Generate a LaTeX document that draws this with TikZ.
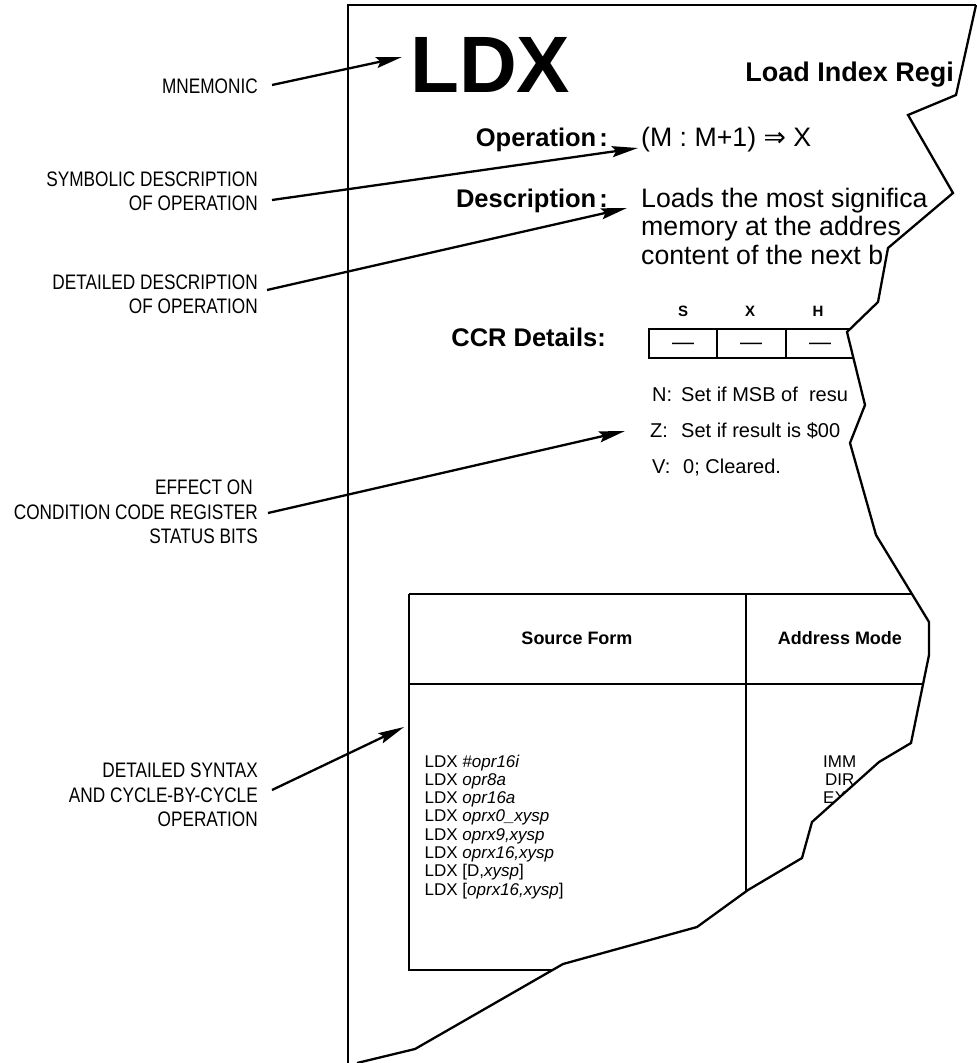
\documentclass[tikz,border=0pt]{standalone}
\usepackage{fontspec}
\setmainfont{Liberation Sans}
\newfontfamily\narrowfont[FakeStretch=0.82]{Liberation Sans}
\newfontfamily\symfont{DejaVu Sans}
\usetikzlibrary{arrows.meta}
\begin{document}
\begin{tikzpicture}[x=1pt,y=-1pt,
  lbl/.style={font=\narrowfont\fontsize{21}{24.5}\selectfont, align=right, inner sep=0, anchor=east},
  callout/.style={line width=2.3pt, -{Stealth[length=26pt,width=11pt,inset=4pt]}},
  pageline/.style={line width=2.3pt, line join=miter},
  hdr/.style={font=\bfseries\fontsize{25.5}{28}\selectfont, inner sep=0, anchor=base east},
  body/.style={font=\fontsize{26.7}{28}\selectfont, inner sep=0, anchor=base west},
  bitlbl/.style={font=\bfseries\fontsize{15}{18}\selectfont, inner sep=0, anchor=base},
  bitbox/.style={line width=2.5pt},
  dashtxt/.style={font=\fontsize{22}{24}\selectfont, inner sep=0, anchor=base},
  flag/.style={font=\fontsize{20}{24}\selectfont, inner sep=0, anchor=base west},
  tbl/.style={line width=1.3pt},
  thdr/.style={font=\bfseries\fontsize{18}{20}\selectfont, inner sep=0, anchor=base},
  tline/.style={font=\fontsize{17}{18.3}\selectfont, inner sep=0, anchor=base west}]
\useasboundingbox (0,0) rectangle (977,1063);

% ---------- page content, clipped by the torn page ----------
\begin{scope}
\clip (348,5) -- (976,5) -- (956,95) -- (908,115) -- (953,193) -- (888,248) -- (878,302)
  -- (847,332) -- (865,405) -- (850,443) -- (876,535) -- (929,622) -- (929,655)
  -- (911,743) -- (879,762) -- (812,822) -- (802,858) -- (748,890) -- (697,927)
  -- (563,964) -- (415,1049) -- (357,1063) -- (348,1063) -- cycle;

\node[anchor=base west, inner sep=0, font=\bfseries\fontsize{80}{80}\selectfont] (mnem) at (410,92) {LDX};
\node[anchor=base east, inner sep=0, font=\bfseries\fontsize{27}{30}\selectfont] (title) at (954,81) {Load Index Regi};

\node[hdr] (ophdr) at (608,146) {Operation\kern3pt:};
\node[body] (opn) at (641,146) {(M : M+1) {\symfont ⇒} X};

\node[hdr] (deschdr) at (608,207) {Description\kern3pt:};
\node[body] (desc1) at (641,207) {Loads the most significa};
\node[body] (desc2) at (641,235.5) {memory at the addres};
\node[body] (desc3) at (641,264) {content of the next b};

\node[hdr] (ccrhdr) at (606,346) {CCR Details:};
\node[bitlbl] (bS) at (683,316) {S};
\node[bitlbl] (bX) at (750,316) {X};
\node[bitlbl] (bH) at (818,316) {H};
\draw[bitbox] (880,329) -- (649,329) -- (649,358) -- (880,358);
\draw[bitbox] (717,329) -- (717,358);
\draw[bitbox] (786,329) -- (786,358);
\node[dashtxt] (dS) at (683,349) {—};
\node[dashtxt] (dX) at (751,349) {—};
\node[dashtxt] (dH) at (820,349) {—};

\node[flag] (fN) at (652,401) {\makebox[29pt][l]{N:}Set if MSB of\ \ resu};
\node[flag] (fZ) at (650,437) {\makebox[31pt][l]{Z:}Set if result is \$00};
\node[flag] (fV) at (652,473) {\makebox[31pt][l]{V:}0; Cleared.};

% table
\draw[tbl] (409,594) -- (970,594);
\draw[tbl] (409,684) -- (970,684);
\draw[tbl] (560,970) -- (409,970) -- (409,594);
\draw[tbl] (746,594) -- (746,920);
\node[thdr] (srcf) at (577,644) {Source Form};
\node[thdr] (addrm) at (840,644) {Address Mode};

\node[tline] (s1) at (424.5,767) {LDX \textit{\#opr16i}};
\node[tline] (s2) at (424.5,785.3) {LDX \textit{opr8a}};
\node[tline] (s3) at (424.5,803.6) {LDX \textit{opr16a}};
\node[tline] (s4) at (424.5,821.9) {LDX \textit{oprx0\_xysp}};
\node[tline] (s5) at (424.5,840.2) {LDX \textit{oprx9,xysp}};
\node[tline] (s6) at (424.5,858.5) {LDX \textit{oprx16,xysp}};
\node[tline] (s7) at (424.5,876.8) {LDX [D,\textit{xysp}]};
\node[tline] (s8) at (424.5,895.1) {LDX [\textit{oprx16,xysp}]};

\node[tline] (m1) at (823,767) {IMM};
\node[tline] (m2) at (825,785.3) {DIR};
\node[tline] (m3) at (823,803.6) {EX};
\end{scope}

% ---------- page outline and torn edge ----------
\draw[pageline] (348,1063) -- (348,5) -- (976,5);
\draw[pageline] (976,5) -- (956,95) -- (908,115) -- (953,193) -- (888,248) -- (878,302)
  -- (847,332) -- (865,405) -- (850,443) -- (876,535) -- (929,622) -- (929,655)
  -- (911,743) -- (879,762) -- (812,822) -- (802,858) -- (748,890) -- (697,927)
  -- (563,964) -- (415,1049) -- (357,1063);

% ---------- callout labels ----------
\node[lbl] (lmn) at (258,86) {MNEMONIC};
\node[lbl] (lsym) at (258,191.5) {SYMBOLIC DESCRIPTION\\OF OPERATION};
\node[lbl] (ldet) at (258,294.5) {DETAILED DESCRIPTION\\OF OPERATION};
\node[lbl] (lccr) at (258,512) {EFFECT ON\hspace*{5pt}\\CONDITION CODE REGISTER\\STATUS BITS};
\node[lbl] (lsyn) at (258,795) {DETAILED SYNTAX\\AND CYCLE-BY-CYCLE\\OPERATION};

\coordinate (tmn) at (402,57);
\coordinate (tsym) at (638,148);
\coordinate (tdet) at (627,208);
\coordinate (tccr) at (625,431);
\coordinate (tsyn) at (404,727);

\draw[callout] ([shift={(14,-1)}]lmn.east) -- (tmn);
\draw[callout] ([shift={(14,8.5)}]lsym.east) -- (tsym);
\draw[callout] ([shift={(9,-4.5)}]ldet.east) -- (tdet);
\draw[callout] ([shift={(10,1)}]lccr.east) -- (tccr);
\draw[callout] ([shift={(14,-5)}]lsyn.east) -- (tsyn);
\end{tikzpicture}
\end{document}
